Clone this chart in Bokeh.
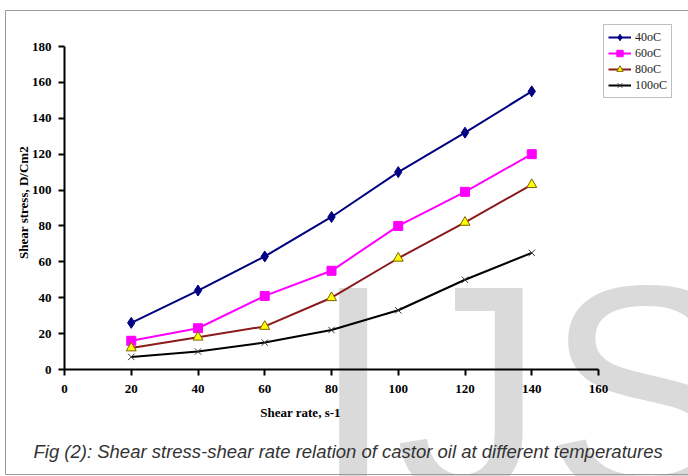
import math
from bokeh.plotting import figure
from bokeh.models import Label, Legend, LegendItem, Range1d, FixedTicker
from bokeh.core.properties import value
from bokeh.embed import file_html
from bokeh.resources import INLINE

# ---- data ----
shear_rate = [20, 40, 60, 80, 100, 120, 140]
stress_40 = [26, 44, 63, 85, 110, 132, 155]
stress_60 = [16, 23, 41, 55, 80, 99, 120]
stress_80 = [12, 18, 24, 40, 62, 82, 103]
stress_100 = [7, 10, 15, 22, 33, 50, 65]
series_labels = ["40oC", "60oC", "80oC", "100oC"]
x_ticks = [0, 20, 40, 60, 80, 100, 120, 140, 160]
y_ticks = [0, 20, 40, 60, 80, 100, 120, 140, 160, 180]
x_title = "Shear rate, s-1"
y_title = "Shear stress, D/Cm2"
caption = "Fig (2): Shear stress-shear rate relation of castor oil at different temperatures"
watermark = "IJSER"

W, H = 688, 476
# where the axes' data box sits on the canvas (pixels)
FL, FR, FT, FB = 64, 598, 46, 369
X0, X1, Y0, Y1 = 0, 160, 0, 180


def dx(px):
    return X0 + (px - FL) / (FR - FL) * (X1 - X0)


def dy(py):
    return Y0 + (FB - py) / (FB - FT) * (Y1 - Y0)


p = figure(width=W, height=H, x_range=Range1d(dx(0), dx(W)), y_range=Range1d(dy(H), dy(0)),
           output_backend="svg", toolbar_location=None,
           min_border_left=0, min_border_right=0, min_border_top=0, min_border_bottom=0)
p.title.text = ""
p.title.visible = False
p.background_fill_color = "white"
p.border_fill_color = "white"
p.outline_line_color = None
p.xgrid.visible = False
p.ygrid.visible = False

# watermark (behind everything)
p.text(x=[dx(311)], y=[dy(390)], text=[watermark], text_font=value("Liberation Sans"),
       text_font_size=value("300px"), text_color="#dadada", text_baseline="alphabetic",
       text_align="left", level="underlay")

# thin grey border of the figure box
p.multi_line(xs=[[dx(5), dx(5), dx(W)], [dx(5), dx(W)]],
             ys=[[dy(474), dy(10), dy(10)], [dy(474), dy(474)]],
             line_color="#9a9a9a", line_width=1, level="underlay")

p.xaxis.fixed_location = 0
p.yaxis.fixed_location = 0
p.xaxis.bounds = (X0, X1)
p.yaxis.bounds = (Y0, Y1)
for ax, ticks in ((p.xaxis, x_ticks), (p.yaxis, y_ticks)):
    ax.ticker = FixedTicker(ticks=ticks)
    ax.axis_line_width = 2
    ax.axis_line_color = "black"
    ax.major_tick_line_width = 2
    ax.major_tick_line_color = "black"
    ax.major_tick_out = 6
    ax.major_tick_in = 0
    ax.minor_tick_line_color = None
    ax.major_label_text_font = "Liberation Serif"
    ax.major_label_text_font_style = "bold"
    ax.major_label_text_font_size = "13px"
    ax.major_label_text_color = "black"
p.xaxis.major_label_standoff = 9
p.yaxis.major_label_standoff = 7

l1 = p.line(shear_rate, stress_40, line_color="#000080", line_width=2)
s1 = p.scatter(shear_rate, stress_40, marker="diamond", size=11, fill_color="#000080", line_color="#000080")
l2 = p.line(shear_rate, stress_60, line_color="#ff00ff", line_width=2)
s2 = p.scatter(shear_rate, stress_60, marker="square", size=9, fill_color="#ff00ff", line_color="#ff00ff")
l3 = p.line(shear_rate, stress_80, line_color="#8b1a1a", line_width=2)
s3 = p.scatter(shear_rate, stress_80, marker="triangle", size=10, fill_color="#ffff00", line_color="#806000", line_width=1)
l4 = p.line(shear_rate, stress_100, line_color="black", line_width=2)
s4 = p.scatter(shear_rate, stress_100, marker="x", size=9, line_color="#333333", line_width=1)

p.add_layout(Label(x=dx(23), y=dy(202), text=y_title, angle=math.pi / 2,
                   text_align="center", text_baseline="middle", text_font="Liberation Serif",
                   text_font_style="bold", text_font_size="13px", text_color="black"))
p.add_layout(Label(x=dx(300), y=dy(412), text=x_title,
                   text_align="center", text_baseline="middle", text_font="Liberation Serif",
                   text_font_style="bold", text_font_size="13px", text_color="black"))
p.add_layout(Label(x=dx(33), y=dy(451), text=caption,
                   text_align="left", text_baseline="alphabetic", text_font="Liberation Sans",
                   text_font_style="italic", text_font_size="18.5px", text_color="#333333"))

legend = Legend(items=[LegendItem(label=series_labels[0], renderers=[l1, s1]),
                       LegendItem(label=series_labels[1], renderers=[l2, s2]),
                       LegendItem(label=series_labels[2], renderers=[l3, s3]),
                       LegendItem(label=series_labels[3], renderers=[l4, s4])],
                location=(603, H - 98))
legend.border_line_color = "#808080"
legend.border_line_width = 1
legend.background_fill_color = "white"
legend.label_text_font = "Liberation Serif"
legend.label_text_font_size = "12px"
legend.label_text_color = "#222222"
legend.glyph_width = 23
legend.glyph_height = 16
legend.label_height = 16
legend.label_standoff = 4
legend.padding = 4
legend.spacing = 0
legend.margin = 0
p.add_layout(legend)

open("out.html", "w").write(file_html(p, INLINE))
